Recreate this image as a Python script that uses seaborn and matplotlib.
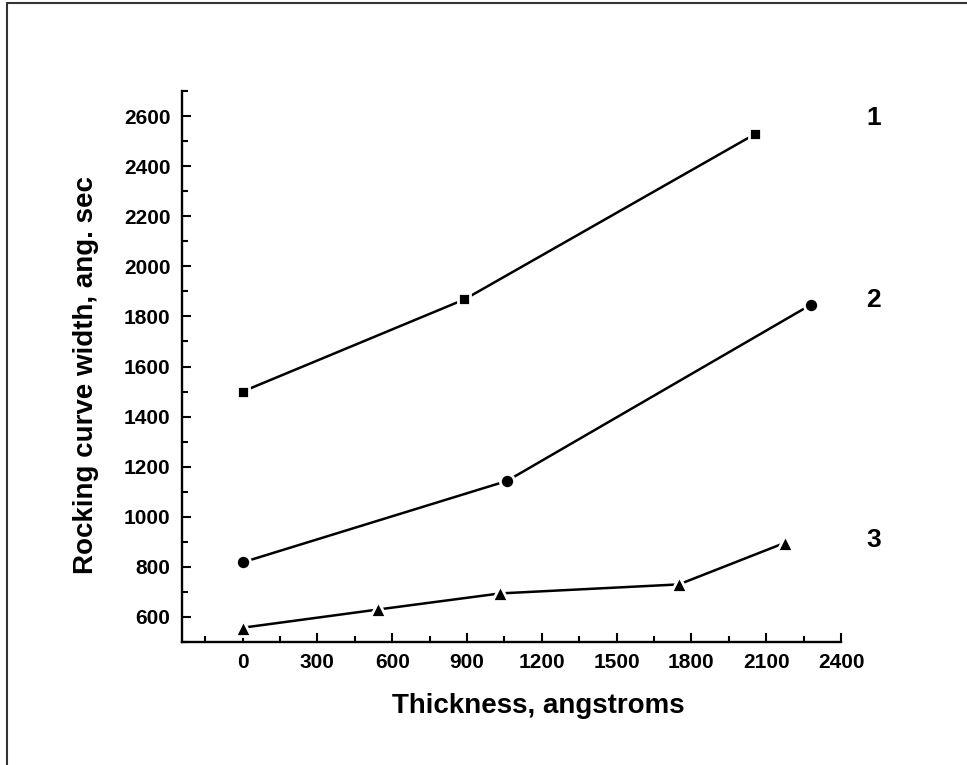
import matplotlib
matplotlib.use("Agg")
import matplotlib.pyplot as plt
from matplotlib.lines import Line2D
from matplotlib.ticker import MultipleLocator
import seaborn as sns
import pandas as pd

# ---- data ----
x_series1 = [0, 890, 2055]
y_series1 = [1500, 1868, 2528]
x_series2 = [0, 1060, 2278]
y_series2 = [818, 1143, 1846]
x_series3 = [0, 545, 1033, 1750, 2175]
y_series3 = [557, 630, 694, 730, 896]
series_labels = ["1", "2", "3"]
label_y = [2592, 1865, 907]
label_x = 2530
x_ticks = [0, 300, 600, 900, 1200, 1500, 1800, 2100, 2400]
y_ticks = [600, 800, 1000, 1200, 1400, 1600, 1800, 2000, 2200, 2400, 2600]

sns.set_style("ticks")
plt.rcParams["font.family"] = ["Liberation Sans", "DejaVu Sans"]
plt.rcParams["font.weight"] = "bold"
plt.rcParams["text.color"] = "black"
plt.rcParams["axes.labelcolor"] = "black"
plt.rcParams["xtick.color"] = "black"
plt.rcParams["ytick.color"] = "black"

fig = plt.figure(figsize=(9.67, 7.65), dpi=100)
ax = fig.add_axes([181.5 / 967, 123 / 765, (841 - 181.5) / 967, (642 - 91) / 765])

series = [
    (x_series1, y_series1, "s", 9.0),
    (x_series2, y_series2, "o", 10.2),
    (x_series3, y_series3, "^", 12.0),
]
for xs, ys, mk, ms in series:
    df = pd.DataFrame({"x": xs, "y": ys})
    sns.lineplot(data=df, x="x", y="y", ax=ax, color="black", linewidth=1.8,
                 marker=mk, markersize=ms, markerfacecolor="black",
                 markeredgecolor="white", markeredgewidth=2.0)

for lab, ly in zip(series_labels, label_y):
    ax.text(label_x, ly, lab, fontsize=19, fontweight="bold", ha="center",
            va="center", clip_on=False, color="black")

ax.set_xlim(-245, 2400)
ax.set_ylim(500, 2700)
ax.set_xticks(x_ticks)
ax.set_yticks(y_ticks)
ax.xaxis.set_minor_locator(MultipleLocator(150))
ax.yaxis.set_minor_locator(MultipleLocator(100))

for s in ["top", "right"]:
    ax.spines[s].set_visible(False)
for s in ["left", "bottom"]:
    ax.spines[s].set_linewidth(1.7)
    ax.spines[s].set_color("black")

ax.tick_params(which="major", direction="in", length=6.5, width=1.5,
               labelsize=15, pad=8, colors="black")
ax.tick_params(which="minor", direction="in", length=4, width=1.5, colors="black")
for t in ax.get_xticklabels() + ax.get_yticklabels():
    t.set_fontweight("bold")

ax.set_xlabel("Thickness, angstroms", fontsize=20, fontweight="bold", color="black")
ax.set_ylabel("Rocking curve width, ang. sec", fontsize=20, fontweight="bold", color="black")
ax.xaxis.set_label_coords(0.541, -0.116)
ax.yaxis.set_label_coords(-0.145, 0.485)
ax.xaxis.label.set_va("center")
ax.yaxis.label.set_va("center")

# partial frame of the picture (left and top edges)
fig.add_artist(Line2D([7 / 967, 7 / 967], [0, 1 - 3 / 765], transform=fig.transFigure,
                      color="#333333", linewidth=1.5))
fig.add_artist(Line2D([7 / 967, 1], [1 - 3 / 765, 1 - 3 / 765], transform=fig.transFigure,
                      color="#333333", linewidth=1.5))

fig.savefig("out.png", dpi=100, facecolor="white")
